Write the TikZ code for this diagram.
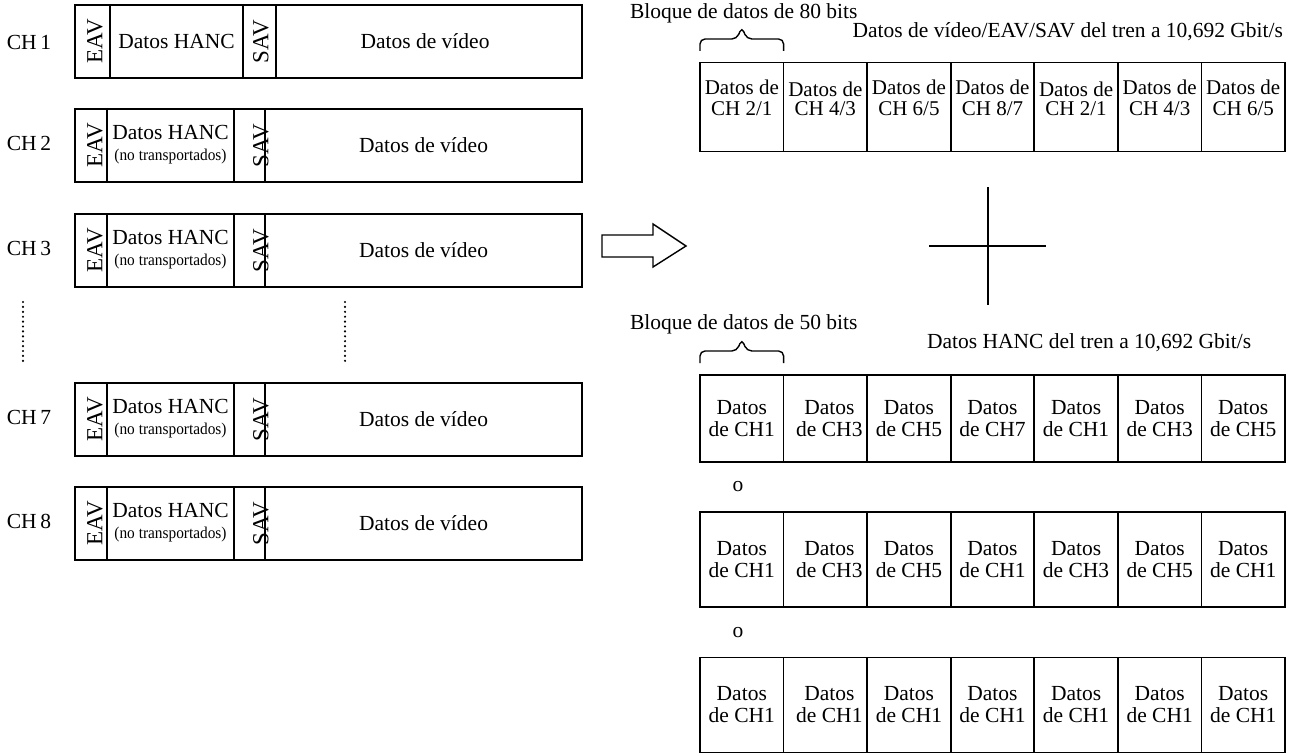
\documentclass[tikz,border=0pt]{standalone}
\usepackage{fontspec}
\setmainfont{Liberation Serif}
\usepackage{graphicx}
\tikzset{
  cellbox/.style={draw, line width=1.6pt, inner sep=0pt, outer sep=0pt},
  lbl/.style={font=\fontsize{21.5}{24}\selectfont, inner sep=0pt, outer sep=0pt},
  toplbl/.style={font=\fontsize{21}{22}\selectfont, inner sep=0pt, outer sep=0pt},
  smalllbl/.style={font=\fontsize{16.5}{18}\selectfont, inner sep=0pt, outer sep=0pt},
  vlbl/.style={font=\fontsize{23}{24}\selectfont, inner sep=0pt, outer sep=0pt, rotate=90},
  celltxt/.style={lbl, align=center, font=\fontsize{21.5}{22}\selectfont},
  dotline/.style={line width=2.4pt, line cap=round, dash pattern=on 0pt off 4.9pt},
  bracepath/.style={line width=1.4pt, rounded corners=5pt},
  hollowarrow/.style={draw, line width=1.4pt, fill=white, line join=miter},
  crossline/.style={line width=1.4pt},
}
\newcommand{\topcell}[3]{%
  \node[cellbox, minimum width=83.57pt, minimum height=89pt] (t#1) at ({700+83.57*(#1+0.5)},107.2) {};
  \node[toplbl] (ta#1) at ({700+83.57*(#1+0.5)},#3) {Datos de};
  \node[toplbl] (tb#1) at ({700+83.57*(#1+0.5)},108.5) {CH #2};
}
\newcommand{\botrow}[4]{%
  \foreach \c [count=\i from 0] in {#4} {
    \node[cellbox, minimum width=83.57pt, minimum height=#3] (#1c\i) at ({700+83.57*(\i+0.5)},#2) {};
    \ifnum\i=1
      \node[celltxt] (#1t\i) at ({700+83.57*(\i+0.5)+4},#2) {Datos\\de CH\c};
    \else
      \node[celltxt] (#1t\i) at ({700+83.57*(\i+0.5)},#2) {Datos\\de CH\c};
    \fi
  }
}
\begin{document}
\begin{tikzpicture}[x=1pt,y=-1pt]
\useasboundingbox (0,0) rectangle (1289,754);

% ---- CH 1 ----
\node[cellbox, minimum width=35pt, minimum height=73pt] (e1) at (92.5,41.5) {};
\node[cellbox, minimum width=133pt, minimum height=73pt] (h1) at (176.5,41.5) {};
\node[cellbox, minimum width=33pt, minimum height=73pt] (s1) at (259.5,41.5) {};
\node[cellbox, minimum width=306pt, minimum height=73pt] (v1) at (429,41.5) {};
\node[vlbl] (et1) at (95,41.5) {EAV};
\node[vlbl] (st1) at (261,41.5) {SAV};
\node[lbl] (ht1) at (176.5,41.5) {Datos HANC};
\node[lbl] (vt1) at (425,41.5) {Datos de vídeo};
\node[lbl] (ch1) at (29,42) {CH\,1};

% ---- CH 2,3,7,8 ----
\foreach \n/\yc in {2/145.5, 3/250.5, 7/419.5, 8/523.5} {
  \node[cellbox, minimum width=32pt, minimum height=73pt] (e\n) at (91,\yc) {};
  \node[cellbox, minimum width=127pt, minimum height=73pt] (h\n) at (170.5,\yc) {};
  \node[cellbox, minimum width=31pt, minimum height=73pt] (s\n) at (249.5,\yc) {};
  \node[cellbox, minimum width=317pt, minimum height=73pt] (v\n) at (423.5,\yc) {};
  \node[vlbl] (et\n) at (95,\yc) {EAV};
  \node[vlbl] (st\n) at (261,\yc) {SAV};
  \node[lbl] (ht\n) at (170.5,\yc-13.5) {Datos HANC};
  \node[smalllbl] (hn\n) at (170.5,\yc+11.5) {\scalebox{0.93}[1]{(no transportados)}};
  \node[lbl] (vt\n) at (423.5,\yc) {Datos de vídeo};
  \node[lbl] (ch\n) at (29,\yc-2) {CH\,\n};
}

% ---- dotted continuation ----
\draw[dotline] (23,302) -- (23,365);
\draw[dotline] (345,302) -- (345,365);

% ---- hollow arrow ----
\draw[hollowarrow] (602,235) -- (653,235) -- (653,224) -- (686,246) -- (653,267) -- (653,257) -- (602,257) -- cycle;

% ---- cross ----
\draw[crossline] (988,187) -- (988,305);
\draw[crossline] (929,246) -- (1046,246);

% ---- top stream ----
\node[lbl, anchor=west] (blq1) at (630,13) {Bloque de datos de 80 bits};
\node[lbl, anchor=east] (tr1) at (1283,32) {Datos de vídeo/EAV/SAV del tren a 10,692 Gbit/s};
\coordinate (b1a) at (700,51);
\coordinate (b1b) at (783.57,51);
\draw[bracepath] (b1a) -- ++(0,-12) -- ++(36.8,0) -- ++(5,-12) -- ++(5,12) -- ++(36.8,0) -- (b1b);
\topcell{0}{2/1}{87}
\topcell{1}{4/3}{89}
\topcell{2}{6/5}{87}
\topcell{3}{8/7}{87}
\topcell{4}{2/1}{89}
\topcell{5}{4/3}{87}
\topcell{6}{6/5}{87}

% ---- HANC stream ----
\node[lbl, anchor=west] (blq2) at (630,324) {Bloque de datos de 50 bits};
\node[lbl, anchor=west] (tr2) at (927,343) {Datos HANC del tren a 10,692 Gbit/s};
\coordinate (b2a) at (700,363);
\coordinate (b2b) at (783.57,363);
\draw[bracepath] (b2a) -- ++(0,-12) -- ++(36.8,0) -- ++(5,-12) -- ++(5,12) -- ++(36.8,0) -- (b2b);
\botrow{ra}{418.5}{87pt}{1,3,5,7,1,3,5}
\node[lbl] (o1) at (738,487) {o};
\botrow{rb}{559.5}{95pt}{1,3,5,1,3,5,1}
\node[lbl] (o2) at (738,633) {o};
\botrow{rc}{705}{95pt}{1,1,1,1,1,1,1}
\end{tikzpicture}
\end{document}
